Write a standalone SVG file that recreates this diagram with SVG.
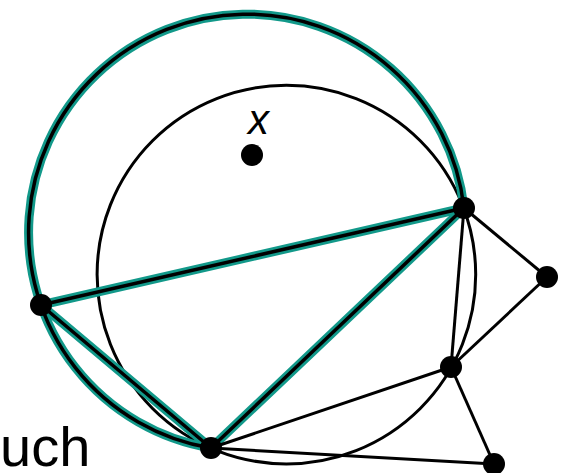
<svg xmlns="http://www.w3.org/2000/svg" width="566" height="473" viewBox="0 0 566 473">
<style>
.hl{fill:none;stroke:#12998a;stroke-width:9;stroke-linecap:round}
.core{fill:none;stroke:#000;stroke-width:3.5;stroke-linecap:round}
.thin{fill:none;stroke:#000;stroke-width:3}
.node{fill:#000}
.lbl{font-family:"Liberation Sans",Arial,sans-serif;fill:#000}
</style>
<rect width="566" height="473" fill="#fff"/>
<g id="connectors">
<circle class="thin" cx="286.4" cy="274.6" r="189.3"/>
<g id="highlight-under">
<path class="hl" d="M464 208 A218.4 218.4 0 1 0 211 448"/>
<line class="hl" x1="41" y1="305" x2="464" y2="208"/>
<line class="hl" x1="41" y1="305" x2="211" y2="448"/>
<line class="hl" x1="211" y1="448" x2="464" y2="208"/>
</g>
<g id="highlight-core">
<path class="core" d="M464 208 A218.4 218.4 0 1 0 211 448"/>
<line class="core" x1="41" y1="305" x2="464" y2="208"/>
<line class="core" x1="41" y1="305" x2="211" y2="448"/>
<line class="core" x1="211" y1="448" x2="464" y2="208"/>
</g>
<line class="thin" x1="464" y1="208" x2="451" y2="367"/>
<line class="thin" x1="464" y1="208" x2="547" y2="277"/>
<line class="thin" x1="547" y1="277" x2="451" y2="367"/>
<line class="thin" x1="451" y1="367" x2="494" y2="464"/>
<line class="thin" x1="451" y1="367" x2="211" y2="448"/>
<line class="thin" x1="211" y1="448" x2="494" y2="464"/>
</g>
<g id="node-x"><circle class="node" cx="252" cy="155" r="11"/><text class="lbl" x="248" y="134" font-size="42" font-style="italic">x</text></g>
<g id="node-a"><circle class="node" cx="41" cy="305" r="11"/></g>
<g id="node-b"><circle class="node" cx="464" cy="208" r="11"/></g>
<g id="node-c"><circle class="node" cx="211" cy="448" r="11"/></g>
<g id="node-d"><circle class="node" cx="547" cy="277" r="11"/></g>
<g id="node-e"><circle class="node" cx="451" cy="367" r="11"/></g>
<g id="node-f"><circle class="node" cx="494" cy="464" r="11"/></g>
<text class="lbl" x="0" y="466" font-size="56">uch</text>
</svg>
